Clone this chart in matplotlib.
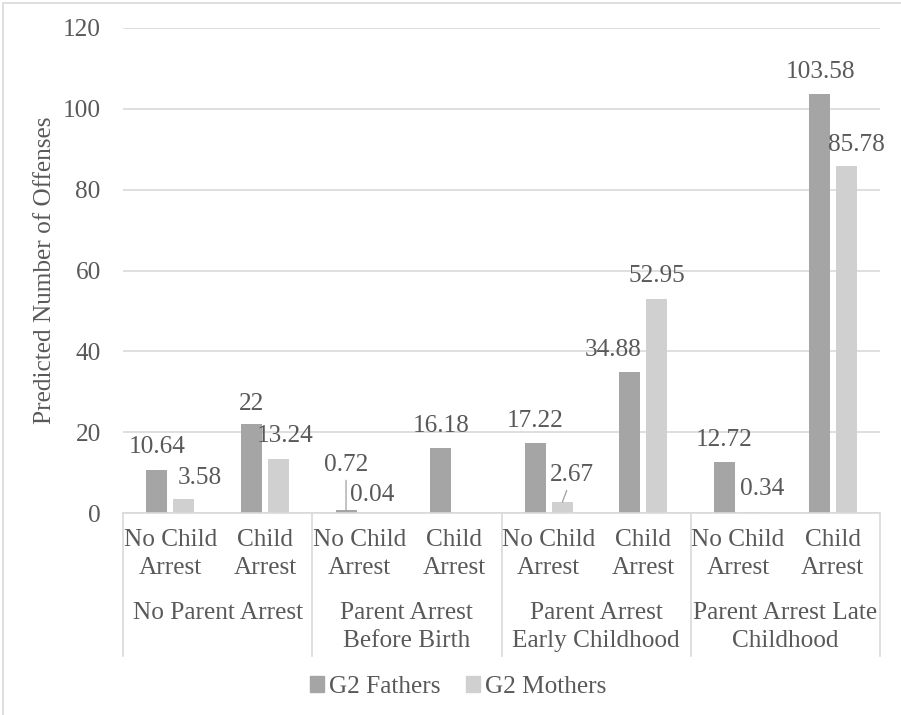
import numpy as np
import matplotlib
matplotlib.use("Agg")
import matplotlib.pyplot as plt
from matplotlib.patches import Rectangle, Patch
from matplotlib.lines import Line2D
import matplotlib.transforms as mtransforms

# ---- data ----
child_labels = ["No Child\nArrest", "Child\nArrest"] * 4
parent_labels = ["No Parent Arrest", "Parent Arrest\nBefore Birth",
                 "Parent Arrest\nEarly Childhood", "Parent Arrest Late\nChildhood"]
fathers = [10.64, 22, 0.72, 16.18, 17.22, 34.88, 12.72, 103.58]
mothers = [3.58, 13.24, 0.04, np.nan, 2.67, 52.95, 0.34, 85.78]
series_names = ["G2 Fathers", "G2 Mothers"]
yticks = [0, 20, 40, 60, 80, 100, 120]

# ---- style ----
c_f = "#A5A5A5"
c_m = "#D0D0D0"
txt = "#595959"
grid_c = "#D9D9D9"
fs = 18.2
plt.rcParams["font.family"] = ["Liberation Serif", "DejaVu Serif"]

# label offsets in pixels (dx, dy above bar top)
off_f = [(0, 23), (0, 20), (0, 45), (0, 22), (0, 22), (-17, 22), (0, 22), (1, 22)]
off_m = [(16, 21), (7, 23), (-1, 18), None, (10, 27), (0, 23), (11, 23), (10, 21)]
lead_f = [False, False, True, False, False, False, False, False]
lead_m = [False, False, False, False, True, False, False, False]

W, H = 901, 715
fig = plt.figure(figsize=(W / 100, H / 100), dpi=100)
ax = fig.add_axes([123 / W, 1 - 513 / H, (880 - 123) / W, (513 - 28) / H])

x = np.arange(len(fathers))
bw = 0.222
d = 0.143
ax.bar(x - d, fathers, bw, color=c_f, zorder=2)
ax.bar(x + d, mothers, bw, color=c_m, zorder=2)

ax.set_xlim(-0.5, len(fathers) - 0.5)
ax.set_ylim(0, 120)
ax.set_yticks(yticks)
ax.set_yticklabels([str(v) for v in yticks], fontsize=fs, color=txt)
ax.tick_params(axis="y", length=0, pad=16)
ax.tick_params(axis="x", length=0, labelbottom=False)
ax.yaxis.grid(True, color=grid_c, lw=1.2, zorder=0)
for s in ["top", "right", "left"]:
    ax.spines[s].set_visible(False)
ax.spines["bottom"].set_color(grid_c)
ax.spines["bottom"].set_linewidth(1.2)
ax.set_ylabel("Predicted Number of Offenses", fontsize=fs, color=txt, labelpad=5)

# data labels
def label(xc, val, off, lead):
    if off is None or np.isnan(val):
        return
    kw = {}
    if lead:
        kw["arrowprops"] = dict(arrowstyle="-", color="#A0A0A0", lw=0.9,
                                shrinkA=1, shrinkB=0)
    ax.annotate(f"{val:g}", xy=(xc, val), xytext=(off[0], off[1]),
                textcoords="offset pixels", ha="center", va="center",
                fontsize=fs, color=txt, zorder=3, **kw)

for i in range(len(fathers)):
    label(x[i] - d, fathers[i], off_f[i], lead_f[i])
    label(x[i] + d, mothers[i], off_m[i], lead_m[i])

# two-level category axis
trans = mtransforms.blended_transform_factory(ax.transData, ax.transAxes)
ah = 513 - 28
for i, lab in enumerate(child_labels):
    ax.text(x[i], -(529 - 513) / ah, lab, transform=trans, ha="center", va="top",
            fontsize=fs, color=txt, linespacing=1.38)
for g, lab in enumerate(parent_labels):
    ax.text(2 * g + 0.5, -(602 - 513) / ah, lab, transform=trans, ha="center", va="top",
            fontsize=fs, color=txt, linespacing=1.38)
for b in np.arange(-0.5, len(fathers), 2):
    ax.add_line(Line2D([b, b], [0, -(656 - 513) / ah], transform=trans,
                       color=grid_c, lw=1.2, clip_on=False))

# legend
handles = [Patch(color=c_f), Patch(color=c_m)]
fig.legend(handles, series_names, loc="center", bbox_to_anchor=(458 / W, 1 - 687 / H),
           ncol=2, frameon=False, fontsize=fs, labelcolor=txt, handlelength=0.55,
           handleheight=0.55, handletextpad=0.2, columnspacing=1.0)

# figure border
fig.add_artist(Rectangle((3 / W, -0.01), 1.01, 1 - 3 / H + 0.01, transform=fig.transFigure,
                         fill=False, edgecolor=grid_c, lw=1.2))

fig.savefig("out.png", dpi=100)
